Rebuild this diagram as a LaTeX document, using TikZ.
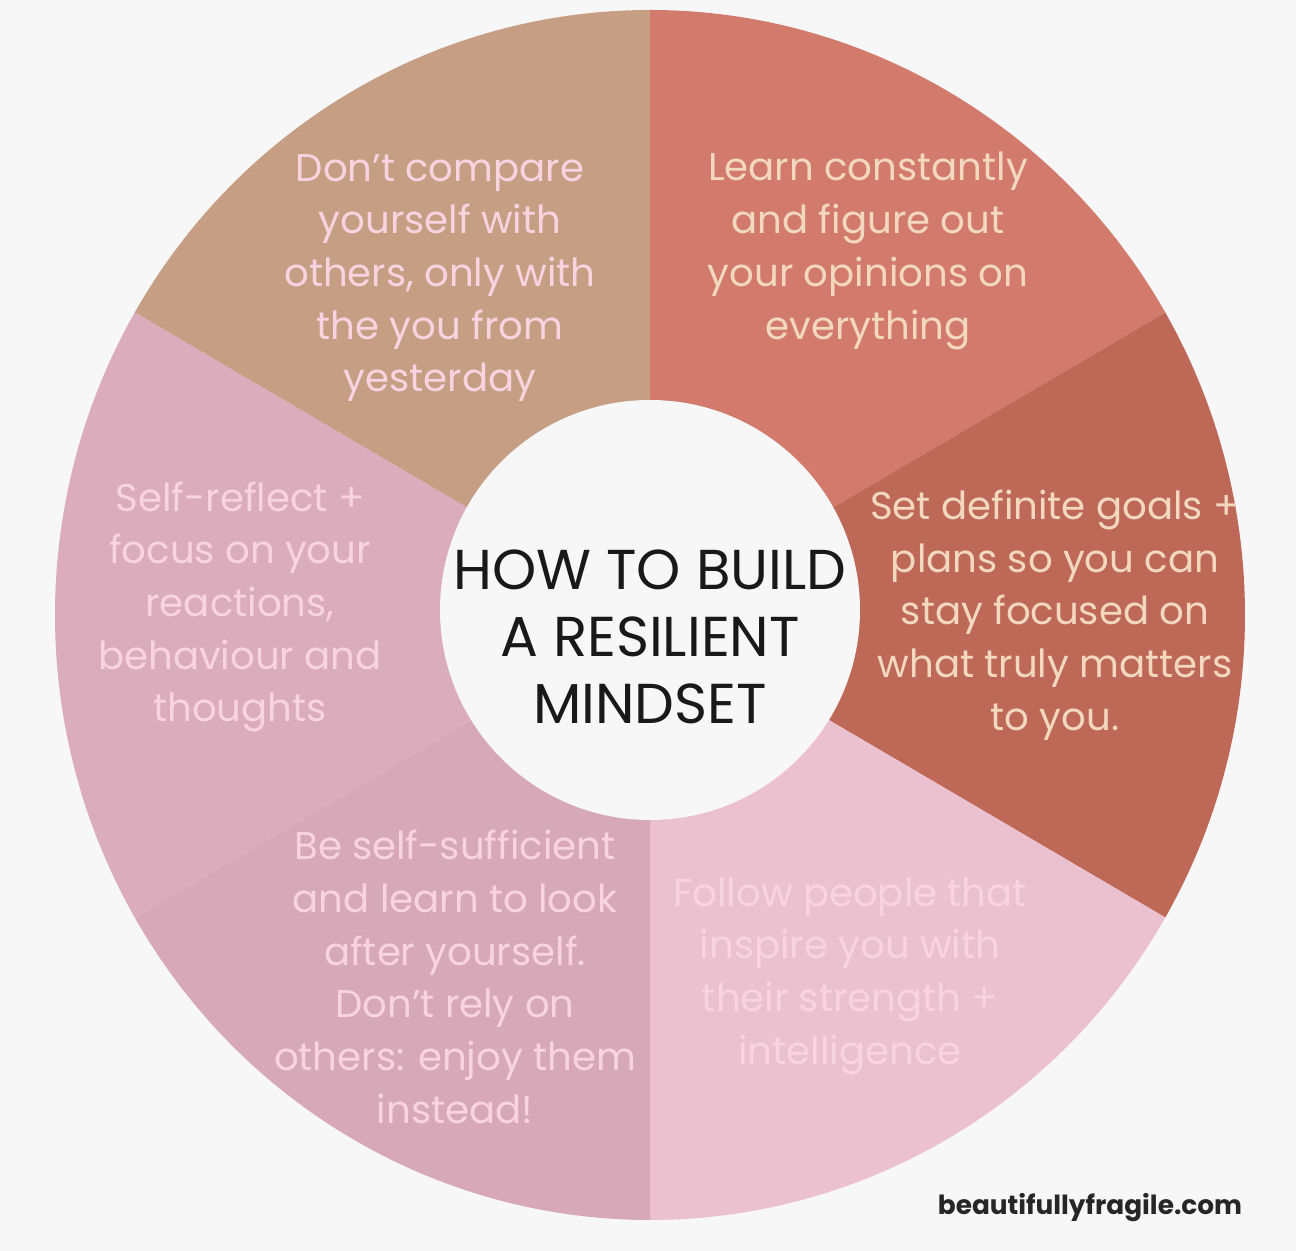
\documentclass[tikz,border=0pt]{standalone}
\usepackage{fontspec}
\setmainfont{Poppins}
\usepackage{tikz}
\usetikzlibrary{positioning}
\definecolor{mybg}{RGB}{247,247,247}
\definecolor{mytan}{RGB}{198,158,132}
\definecolor{mycoral}{RGB}{210,122,108}
\definecolor{myred}{RGB}{190,104,88}
\definecolor{mylightpink}{RGB}{236,193,207}
\definecolor{mymauve}{RGB}{215,168,183}
\definecolor{myrose}{RGB}{218,172,188}
\definecolor{mypinktext}{RGB}{247,212,224}
\definecolor{mycreamtext}{RGB}{243,216,192}

\begin{document}
\begin{tikzpicture}[
  mytext/.style={
    text=#1,
    align=center,
    font=\fontsize{11}{15}\selectfont
    },
  mytitle/.style={
    align=center,
    text=black!90,
    font=\fontsize{16}{19}\selectfont
    }
]

\fill[mybg] (-6.50,-6.36) rectangle (6.46,6.15);
\useasboundingbox (-6.50,-6.36) rectangle (6.46,6.15);

% the six slices
\foreach \Start/\Stop/\Colour in {90/150/mytan, 30/90/mycoral, -30/30/myred, -90/-30/mylightpink, -150/-90/mymauve, 150/210/myrose}
  \fill[\Colour] (0,0) -- (\Start:5.95 and 6.05)
    arc[start angle=\Start, end angle=\Stop, x radius=5.95, y radius=6.05] -- cycle;

\node[circle, fill=mybg, minimum size=4.2cm, inner sep=0pt] (hub) at (0,0.05) {};
\node[mytitle] (title) at (0,-0.22) {HOW TO BUILD\\A RESILIENT\\MINDSET};

\node[mytext=mypinktext] (compare) at (-2.10,3.37)
  {Don't compare\\yourself with\\others, only with\\the you from\\yesterday};
\node[mytext=mycreamtext] (learn) at (2.18,3.64)
  {Learn constantly\\and figure out\\your opinions on\\everything};
\node[mytext=mycreamtext] (goals) at (4.05,0)
  {Set definite goals +\\plans so you can\\stay focused on\\what truly matters\\to you.};
\node[mytext=mypinktext] (follow) at (2.00,-3.61)
  {Follow people that\\inspire you with\\their strength +\\intelligence};
\node[mytext=mypinktext] (sufficient) at (-1.95,-3.62)
  {Be self-sufficient\\and learn to look\\after yourself.\\Don't rely on\\others: enjoy them\\instead!};
\node[mytext=mypinktext] (reflect) at (-4.10,0.08)
  {Self-reflect +\\focus on your\\reactions,\\behaviour and\\thoughts};

\node[text=black!85, font=\fontsize{7.5}{9}\selectfont\bfseries] (site) at (4.40,-5.93) {beautifullyfragile.com};
\end{tikzpicture}
\end{document}
